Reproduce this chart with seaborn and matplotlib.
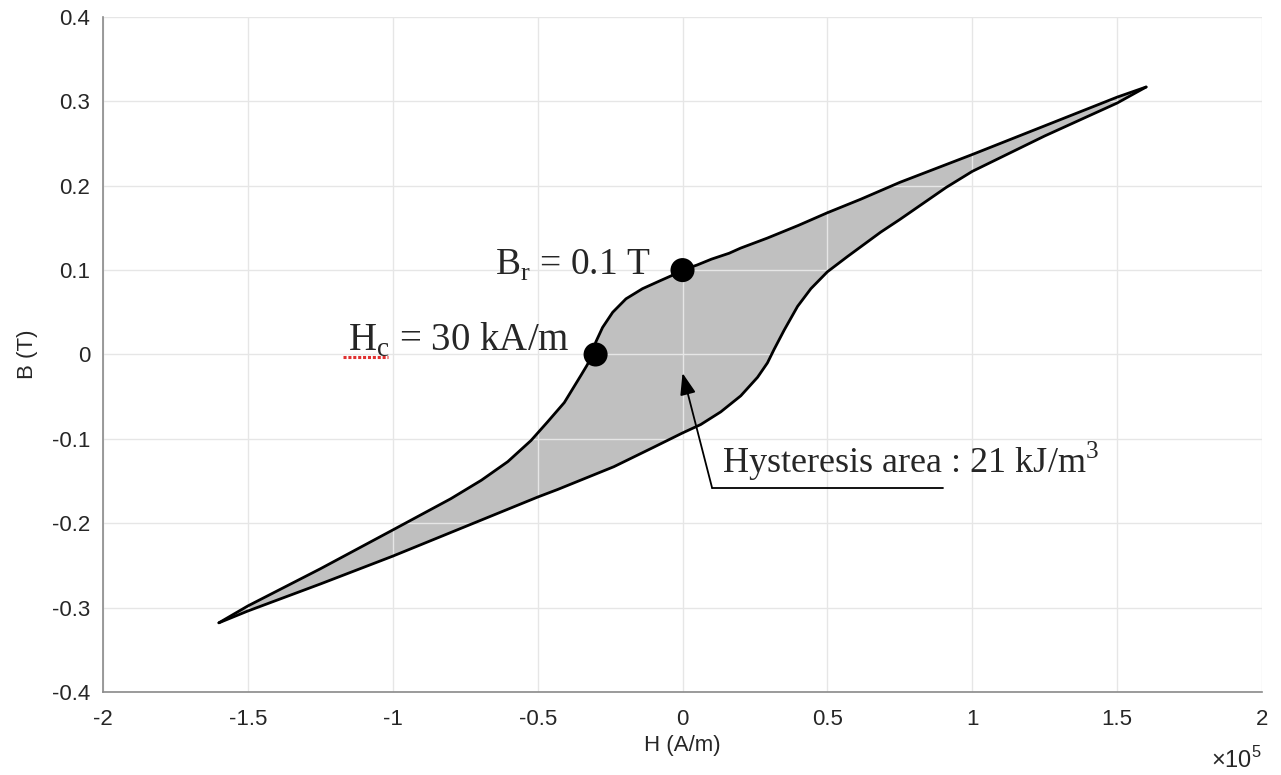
import numpy as np
import pandas as pd
import matplotlib
matplotlib.use("Agg")
import matplotlib.pyplot as plt
from matplotlib.ticker import FuncFormatter
import seaborn as sns

# Descending branch of the B-H loop (H in units of 1e5 A/m, B in tesla)
h_down = [1.60, 1.50, 1.25, 1.00, 0.75, 0.615, 0.50, 0.40, 0.293, 0.20,
          0.161, 0.10, 0.05, 0.0, -0.034, -0.080, -0.138, -0.195, -0.241,
          -0.276, -0.299, -0.313, -0.330, -0.351, -0.408, -0.466, -0.523,
          -0.603, -0.694, -0.80, -1.00, -1.25, -1.50, -1.60]
b_down = [0.317, 0.305, 0.271, 0.237, 0.204, 0.184, 0.168, 0.153, 0.138, 0.126,
          0.120, 0.113, 0.106, 0.100, 0.094, 0.087, 0.078, 0.066, 0.050,
          0.032, 0.015, -0.002, -0.013, -0.025, -0.057, -0.080, -0.102,
          -0.127, -0.149, -0.171, -0.208, -0.254, -0.298, -0.318]

# Ascending branch
h_up = [-1.60, -1.50, -1.25, -1.00, -0.75, -0.50, -0.431, -0.237, -0.100,
        0.0, 0.063, 0.132, 0.201, 0.259, 0.293, 0.316, 0.351, 0.397, 0.443,
        0.50, 0.569, 0.684, 0.75, 0.91, 1.00, 1.25, 1.50, 1.60]
b_up = [-0.318, -0.304, -0.272, -0.239, -0.204, -0.169, -0.160, -0.133, -0.110,
        -0.093, -0.083, -0.068, -0.049, -0.027, -0.010, 0.006, 0.029, 0.057, 0.078,
        0.098, 0.116, 0.145, 0.160, 0.198, 0.217, 0.259, 0.298, 0.317]

# Remanence and coercivity points
hc_point = (-0.30, 0.0)
br_point = (0.0, 0.10)

x_ticks = [-2, -1.5, -1, -0.5, 0, 0.5, 1, 1.5, 2]
y_ticks = [-0.4, -0.3, -0.2, -0.1, 0, 0.1, 0.2, 0.3, 0.4]

sns.set_theme(style="whitegrid")
plt.rcParams["font.family"] = ["Liberation Sans", "DejaVu Sans"]
plt.rcParams["axes.unicode_minus"] = False
plt.rcParams["mathtext.fontset"] = "custom"
plt.rcParams["mathtext.rm"] = "Liberation Serif"
plt.rcParams["mathtext.sf"] = "Liberation Sans"

fig = plt.figure(figsize=(12.81, 7.75), dpi=100)
ax = fig.add_axes([0.0804, 0.1071, 0.9048, 0.8710])

down = pd.DataFrame({"H": h_down, "B": b_down})
up = pd.DataFrame({"H": h_up, "B": b_up})

# Shaded loop area
loop = pd.concat([down, up], ignore_index=True)
ax.fill(loop["H"], loop["B"], color="#c0c0c0", lw=0, zorder=1)

sns.lineplot(data=down, x="H", y="B", sort=False, color="black", lw=2.0, ax=ax, zorder=3)
sns.lineplot(data=up, x="H", y="B", sort=False, color="black", lw=2.0, ax=ax, zorder=3)

pts = pd.DataFrame({"H": [hc_point[0], br_point[0]], "B": [hc_point[1], br_point[1]]})
sns.scatterplot(data=pts, x="H", y="B", color="black", s=300, edgecolor="none", ax=ax, zorder=4)

serif = ["Liberation Serif", "DejaVu Serif"]
ax.text(-0.11, 0.095, r"B$_\mathrm{r}$ = 0.1 T", fontsize=27, family=serif,
        ha="right", va="baseline", zorder=5)
ax.text(-0.39, 0.004, r"H$_\mathrm{c}$ = 30 kA/m", fontsize=28, family=serif,
        ha="right", va="baseline", zorder=5)
ax.plot([-1.17, -1.015], [-0.0035, -0.0035], color="#e03030", lw=2.2,
        ls=(0, (1, 0.6)), zorder=5)

ax.text(0.137, -0.14, r"Hysteresis area : 21 kJ/m$^\mathrm{3}$", fontsize=26,
        family=serif, ha="left", va="baseline", zorder=5)
ax.plot([0.102, 0.90], [-0.158, -0.158], color="black", lw=1.3, zorder=5)
ax.annotate("", xy=(0.0, -0.022), xytext=(0.102, -0.158),
            arrowprops=dict(arrowstyle="-|>,head_length=1.1,head_width=0.4",
                            color="black", lw=1.3, shrinkA=0, shrinkB=0),
            zorder=5)

ax.set_xlim(-2, 2)
ax.set_ylim(-0.4, 0.4)
ax.set_xticks(x_ticks)
ax.set_yticks(y_ticks)
ax.xaxis.set_major_formatter(FuncFormatter(lambda v, p: f"{v:g}"))
ax.yaxis.set_major_formatter(FuncFormatter(lambda v, p: f"{v:g}"))
ax.set_axisbelow("line")
ax.grid(True, color="#e6e6e6", lw=1.0)
ax.set_facecolor("white")
for side in ["top", "right"]:
    ax.spines[side].set_visible(False)
for side in ["left", "bottom"]:
    ax.spines[side].set_visible(True)
    ax.spines[side].set_color("#8a8a8a")
    ax.spines[side].set_linewidth(1.2)
ax.tick_params(axis="both", direction="in", length=5, width=1, color="#8a8a8a",
               labelsize=16, labelcolor="#262626", pad=9)
ax.tick_params(axis="x", pad=12)

ax.set_xlabel("H (A/m)", fontsize=16, color="#262626", labelpad=4)
ax.set_ylabel("B (T)", fontsize=16, color="#262626", labelpad=10)
ax.text(1.0, -0.113, r"×10$^{\mathsf{5}}$", transform=ax.transAxes, fontsize=17,
        color="#262626", ha="right", va="baseline")

fig.savefig("out.png", dpi=100)
